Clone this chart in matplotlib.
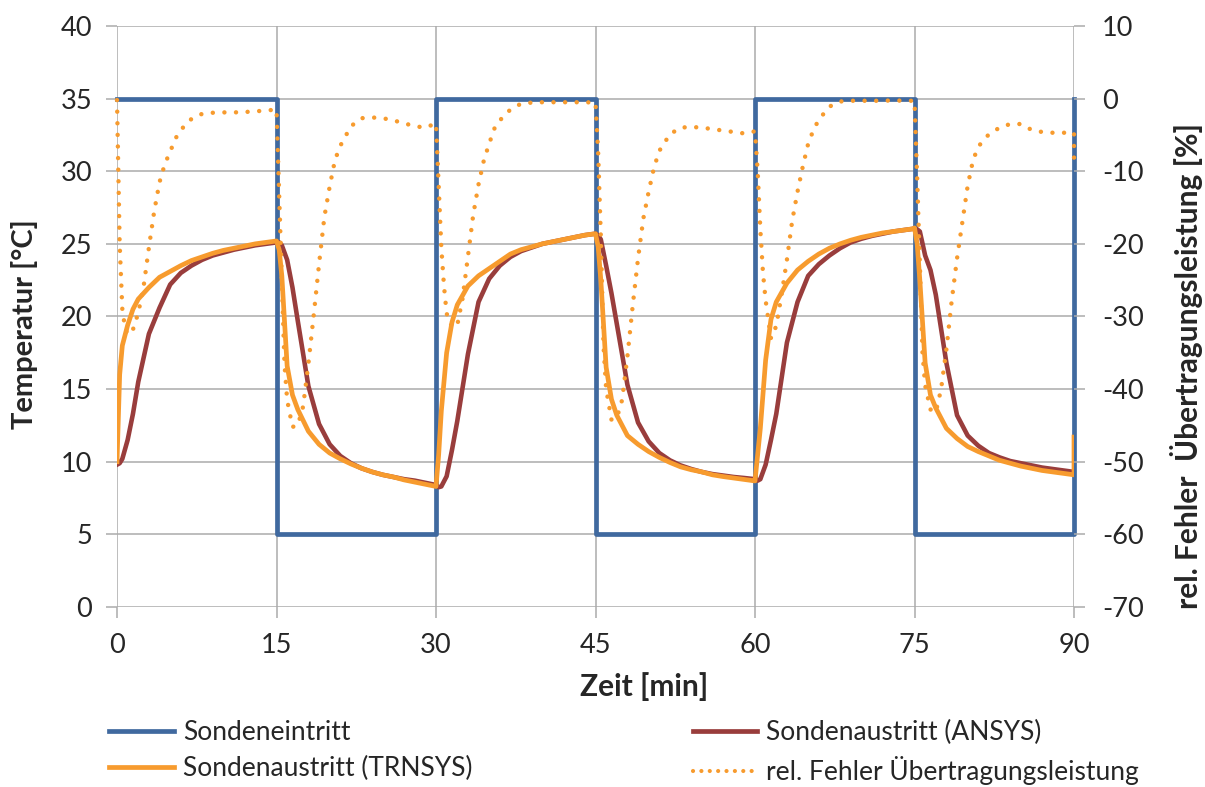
import numpy as np
import matplotlib.pyplot as plt
from matplotlib.lines import Line2D

plt.rcParams['font.family'] = ['Lato', 'DejaVu Sans']
plt.rcParams['axes.unicode_minus'] = False

# local time grids within each 15 min half-cycle
t_loc = [0, 0.25, 0.5, 1, 1.5, 2, 3, 4, 5, 6, 7, 8, 9, 10, 11, 12, 13, 14, 15]
t_loc_err = [0, 0.25, 0.5, 0.75, 1, 1.5, 2, 2.5, 3, 3.5, 4, 4.5, 5, 5.5, 6,
             7, 8, 9, 10, 11, 12, 13, 14, 15]
half_starts = [0, 15, 30, 45, 60, 75]

# Sondeneintritt (step)
inlet_edges = [0, 15, 30, 45, 60, 75, 90]
inlet_temp = [35, 5, 35, 5, 35, 5, 35]

# Sondenaustritt (TRNSYS) per half-cycle
trnsys_h1 = [10.0, 16.0, 18.0, 19.4, 20.5, 21.2, 22.0, 22.7, 23.1, 23.5, 23.85, 24.1, 24.35, 24.55, 24.7, 24.85, 25.0, 25.1, 25.2]
trnsys_c1 = [25.2, 24.6, 22.8, 16.6, 14.6, 13.6, 12.1, 11.2, 10.6, 10.2, 9.85, 9.55, 9.3, 9.1, 8.95, 8.75, 8.6, 8.45, 8.3]
trnsys_h2 = [8.3, 10.5, 13.5, 17.5, 19.6, 20.8, 22.1, 22.8, 23.3, 23.8, 24.3, 24.6, 24.8, 25.0, 25.15, 25.3, 25.45, 25.6, 25.7]
trnsys_c2 = [25.7, 24.8, 22.5, 16.5, 14.3, 13.2, 11.8, 11.2, 10.7, 10.3, 9.95, 9.65, 9.45, 9.3, 9.1, 8.98, 8.88, 8.78, 8.68]
trnsys_h3 = [8.7, 10.5, 12.3, 17.0, 19.8, 21.0, 22.3, 23.2, 23.8, 24.3, 24.7, 25.0, 25.25, 25.45, 25.6, 25.75, 25.85, 25.95, 26.05]
trnsys_c3 = [26.1, 25.0, 22.5, 16.8, 14.6, 13.7, 12.3, 11.6, 11.05, 10.7, 10.4, 10.1, 9.9, 9.7, 9.55, 9.4, 9.3, 9.2, 9.1]
trnsys_end = 11.7

# Sondenaustritt (ANSYS) per half-cycle
ansys_h1 = [9.8, 9.9, 10.2, 11.5, 13.3, 15.5, 18.8, 20.6, 22.2, 23.0, 23.5, 23.9, 24.2, 24.4, 24.6, 24.75, 24.9, 25.0, 25.1]
ansys_c1 = [25.1, 25.1, 24.9, 23.9, 22.0, 19.7, 15.2, 12.6, 11.2, 10.4, 9.9, 9.55, 9.3, 9.1, 8.95, 8.8, 8.7, 8.55, 8.4]
ansys_h2 = [8.4, 8.25, 8.3, 9.0, 10.8, 12.8, 17.4, 21.0, 22.6, 23.5, 24.1, 24.5, 24.75, 25.0, 25.15, 25.3, 25.45, 25.6, 25.7]
ansys_c2 = [25.7, 25.6, 25.3, 23.5, 21.6, 19.5, 15.3, 12.7, 11.4, 10.6, 10.1, 9.75, 9.5, 9.3, 9.15, 9.05, 8.95, 8.88, 8.8]
ansys_h3 = [8.8, 8.7, 8.8, 9.8, 11.5, 13.3, 18.2, 21.0, 22.8, 23.6, 24.2, 24.7, 25.1, 25.35, 25.55, 25.7, 25.85, 25.95, 26.05]
ansys_c3 = [26.05, 26.0, 25.85, 24.2, 23.2, 21.5, 16.8, 13.2, 11.8, 11.1, 10.6, 10.3, 10.05, 9.9, 9.75, 9.6, 9.5, 9.4, 9.3]

# rel. Fehler Uebertragungsleistung [%] per half-cycle
err_h1 = [-0.2, -20.0, -29.0, -31.5, -32.5, -31.8, -29.5, -25.9, -20.5, -15.5, -11.5, -9.0, -7.3, -5.5, -4.3, -2.8, -2.1, -1.95, -1.9, -1.9, -1.85, -1.75, -1.65, -1.5]
err_c1 = [-1.5, -13.5, -25.0, -36.5, -41.5, -45.2, -45.0, -42.4, -36.5, -29.8, -22.8, -16.3, -12.1, -8.45, -6.5, -3.8, -2.7, -2.6, -2.7, -3.0, -3.4, -3.8, -4.0, -3.4]
err_h2 = [-3.4, -12.0, -20.5, -25.8, -29.6, -31.5, -31.2, -27.5, -21.8, -16.0, -11.8, -8.5, -6.2, -4.1, -3.0, -1.5, -0.7, -0.55, -0.5, -0.5, -0.5, -0.5, -0.5, -0.55]
err_c2 = [-0.55, -7.5, -19.0, -34.0, -40.0, -44.2, -44.0, -41.5, -35.5, -28.5, -22.0, -16.5, -12.8, -9.5, -7.2, -4.9, -4.0, -3.9, -4.0, -4.2, -4.4, -4.6, -4.8, -4.5]
err_h3 = [-4.5, -10.0, -18.0, -24.0, -27.8, -33.0, -31.3, -27.0, -22.2, -16.8, -12.8, -9.3, -6.2, -4.3, -2.9, -1.1, -0.4, -0.3, -0.3, -0.3, -0.3, -0.25, -0.3, -0.3]
err_c3 = [-0.3, -11.0, -22.7, -35.0, -39.5, -42.8, -43.2, -40.0, -34.5, -27.8, -22.0, -17.0, -12.0, -8.5, -6.6, -4.9, -4.0, -3.5, -3.5, -4.3, -4.6, -4.7, -4.7, -4.7]
err_end = -9.0

labels = ['Sondeneintritt', 'Sondenaustritt (ANSYS)',
          'Sondenaustritt (TRNSYS)', 'rel. Fehler \u00dcbertragungsleistung']

c_blue = '#40699F'
c_red = '#993D3C'
c_orange = '#F79B2E'
c_grid = '#ABABAB'
c_text = '#262626'


def join(halves, grid, end=None):
    t = np.concatenate([np.array(grid) + s for s, _ in zip(half_starts, halves)])
    v = np.concatenate([np.array(h) for h in halves])
    if end is not None:
        t = np.append(t, 90)
        v = np.append(v, end)
    return t, v


t_tr, v_tr = join([trnsys_h1, trnsys_c1, trnsys_h2, trnsys_c2, trnsys_h3, trnsys_c3], t_loc, trnsys_end)
t_an, v_an = join([ansys_h1, ansys_c1, ansys_h2, ansys_c2, ansys_h3, ansys_c3], t_loc)
t_er, v_er = join([err_h1, err_c1, err_h2, err_c2, err_h3, err_c3], t_loc_err, err_end)

fig = plt.figure(figsize=(12.05, 7.87), dpi=100)
ax = fig.add_axes([0.0971, 0.2287, 0.7942, 0.7383])
ax2 = ax.twinx()

ax.step(inlet_edges, inlet_temp, where='post', color=c_blue, lw=3.4, zorder=3,
        clip_on=False)
ax.plot(t_an, v_an, color=c_red, lw=3.3, zorder=4, solid_joinstyle='round')
ax.plot(t_tr, v_tr, color=c_orange, lw=3.4, zorder=5, solid_joinstyle='round')
ax2.plot(t_er, v_er, color=c_orange, lw=3.2, linestyle=(0, (0.01, 2.6)),
         dash_capstyle='round', clip_on=False)

ax.set_xlim(0, 90)
ax.set_ylim(0, 40)
ax2.set_ylim(-70, 10)
ax.set_xticks(np.arange(0, 91, 15))
ax.set_yticks(np.arange(0, 41, 5))
ax2.set_yticks(np.arange(-70, 11, 10))

ax.grid(True, color=c_grid, lw=1.1, zorder=0)
ax.set_axisbelow(True)
for a in (ax, ax2):
    for sp in a.spines.values():
        sp.set_visible(False)
ax.tick_params(axis='both', which='both', direction='out', length=8, width=1.1,
               color=c_grid, labelsize=19.5, labelcolor=c_text)
ax.tick_params(axis='y', pad=10)
ax.tick_params(axis='x', pad=11)
ax2.tick_params(axis='y', direction='out', length=8, width=1.1, color=c_grid,
                labelsize=19.5, labelcolor=c_text, pad=12)

ax.set_xlabel('Zeit [min]', fontsize=21.5, fontweight='bold', color=c_text)
ax.xaxis.set_label_coords(0.551, -0.112)
ax.set_ylabel('Temperatur [\u00b0C]', fontsize=21, fontweight='bold', color=c_text)
ax.yaxis.set_label_coords(-0.083, 0.487)
ax2.set_ylabel('rel. Fehler  \u00dcbertragungsleistung [%]', fontsize=21.5,
               fontweight='bold', color=c_text)
ax2.yaxis.set_label_coords(1.1, 0.415)

handles = [Line2D([], [], color=c_blue, lw=3.4),
           Line2D([], [], color=c_orange, lw=3.4),
           Line2D([], [], color=c_red, lw=3.4),
           Line2D([], [], color=c_orange, lw=3.0, linestyle=(0, (0.01, 2.0)),
                  dash_capstyle='round')]
fig.legend(handles, [labels[0], labels[2], labels[1], labels[3]], ncol=2,
           loc='upper left', bbox_to_anchor=(0.082, 0.099), frameon=False,
           fontsize=19, handlelength=2.45, handletextpad=0.33, columnspacing=8.35,
           labelspacing=0.42, borderaxespad=0)
for t in fig.legends[0].get_texts():
    t.set_color(c_text)

fig.savefig('out.png', dpi=100)
